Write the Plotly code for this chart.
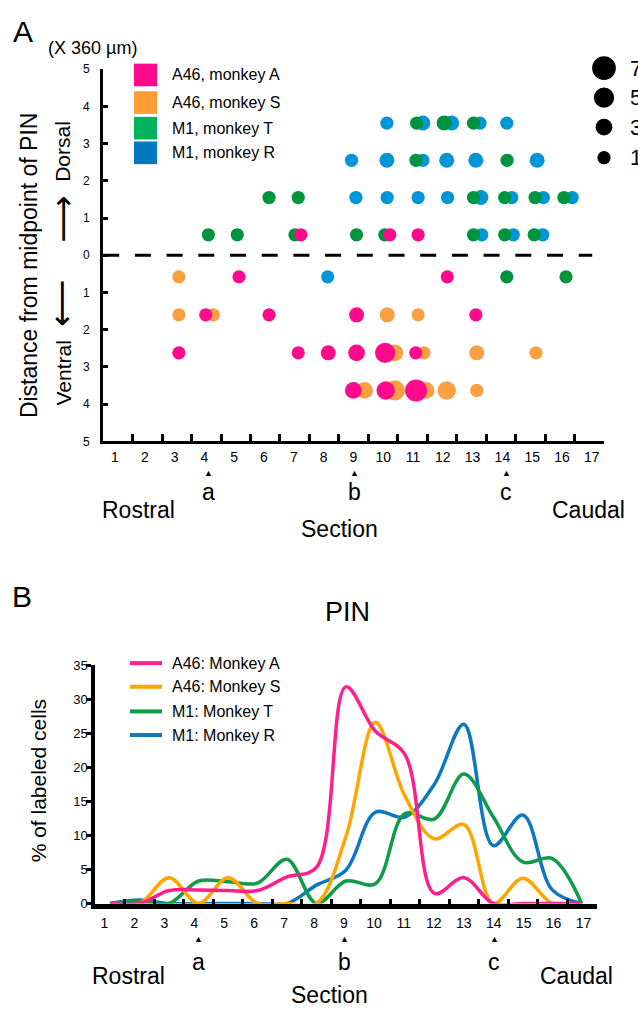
import plotly.graph_objects as go

W, H = 638, 1012
FONT = "Liberation Sans, Arial, Helvetica, sans-serif"


def px(x):
    return x / W


def py(y):
    return 1 - y / H


# ---------------- DATA ----------------
sections = list(range(1, 18))
section_labels = [str(s) for s in sections]
depth_ticks = [-5, -4, -3, -2, -1, 0, 1, 2, 3, 4, 5]
depth_labels = ["5", "4", "3", "2", "1", "0", "1", "2", "3", "4", "5"]

# Panel A: labelled-cell clusters (section position, depth x360 um, cell count)
a46_A_x = [7.21, 10.23, 11.19, 5.11, 12.18, 3.98, 6.13, 9.10, 13.15,
           3.07, 7.12, 8.14, 9.10, 10.07, 11.11, 8.99, 10.09, 11.12]
a46_A_y = [0.55, 0.55, 0.55, -0.58, -0.58, -1.6, -1.6, -1.6, -1.6,
           -2.62, -2.62, -2.62, -2.62, -2.62, -2.62, -3.63, -3.63, -3.63]
a46_A_n = [1, 1, 1, 1, 1, 1, 1, 2, 1,
           1, 1, 2, 3, 5, 1, 3, 4, 6]

a46_S_x = [3.07, 3.07, 4.24, 10.14, 11.19, 10.40, 11.39, 13.18, 15.19,
           9.37, 10.40, 11.46, 12.16, 13.18]
a46_S_y = [-0.58, -1.6, -1.6, -1.6, -1.6, -2.62, -2.62, -2.62, -2.62,
           -3.63, -3.63, -3.63, -3.63, -3.63]
a46_S_n = [1, 1, 1, 2, 1, 3, 1, 2, 1,
           3, 5, 3, 4, 1]

m1_T_x = [11.14, 12.07, 13.07, 11.12, 14.21,
          6.13, 7.12, 13.07, 14.13, 15.16, 16.14,
          4.07, 5.05, 7.01, 9.10, 10.06, 13.07, 14.13, 15.13,
          14.20, 16.21]
m1_T_y = [3.55, 3.55, 3.55, 2.55, 2.55,
          1.55, 1.55, 1.55, 1.55, 1.55, 1.55,
          0.55, 0.55, 0.55, 0.55, 0.55, 0.55, 0.55, 0.55,
          -0.58, -0.58]
m1_T_n = [1, 2, 1, 1, 1,
          1, 1, 1, 1, 1, 1,
          1, 1, 1, 1, 1, 1, 1, 1,
          1, 1]

m1_R_x = [10.13, 11.35, 12.33, 13.29, 14.20,
          8.93, 10.13, 11.35, 12.16, 13.15, 15.23,
          9.08, 10.14, 11.19, 12.19, 13.32, 14.37, 15.44, 16.42,
          13.35, 14.42, 15.42,
          8.12]
m1_R_y = [3.55, 3.55, 3.55, 3.55, 3.55,
          2.55, 2.55, 2.55, 2.55, 2.55, 2.55,
          1.55, 1.55, 1.55, 1.55, 1.55, 1.55, 1.55, 1.55,
          0.55, 0.55, 0.55,
          -0.58]
m1_R_n = [1, 2, 2, 1, 1,
          1, 2, 1, 2, 2, 2,
          1, 1, 1, 1, 2, 1, 1, 1,
          1, 1, 1,
          1]

size_legend_counts = [7, 5, 3, 1]

# Panel B: % of labelled cells per section
pct_A46_A = [0, 0, 1.9, 2.0, 1.9, 1.9, 3.9, 5.3, 31.8, 25.3, 21.9, 1.5, 3.8, 0, 0, 0, 0]
pct_A46_S = [0, 0, 3.8, 0, 3.8, 0, 0, 0, 9.8, 26.6, 15.8, 9.5, 11.6, 0, 3.7, 0, 0]
pct_M1_T = [0, 0.3, 0, 3.3, 3.2, 3.0, 6.5, 0, 3.3, 2.9, 13.2, 12.4, 19.0, 12.7, 6.1, 6.6, 0]
pct_M1_R = [0, 0.5, 0, 0, 0, 0, 0, 2.7, 4.9, 13.4, 12.7, 17.5, 26.3, 8.5, 13.0, 2.0, 0]

pct_ticks = [0, 5, 10, 15, 20, 25, 30, 35]

# ---------------- STYLE ----------------
DOT = {"A": "#FF0A8C", "S": "#F9A040", "T": "#00943E", "R": "#0095D6"}
SWATCH = {"A": "#FF0A8C", "S": "#FF9E35", "T": "#00B35E", "R": "#0077C2"}
LINE = {"A": "#FF1E8E", "S": "#FFA500", "T": "#0F9B48", "R": "#0B78C0"}


def dot_size(n):
    return [11.5 + 1.75 * v for v in n]


fig = go.Figure()

# Panel A dots (drawing order: orange, blue, green, magenta on top)
for xs, ys, ns, key in [(a46_S_x, a46_S_y, a46_S_n, "S"),
                        (m1_R_x, m1_R_y, m1_R_n, "R"),
                        (m1_T_x, m1_T_y, m1_T_n, "T"),
                        (a46_A_x, a46_A_y, a46_A_n, "A")]:
    fig.add_trace(go.Scatter(x=xs, y=ys, mode="markers", xaxis="x", yaxis="y",
                             marker=dict(size=dot_size(ns), color=DOT[key], line=dict(width=0), opacity=1),
                             showlegend=False, hoverinfo="skip"))

# dummy traces for the tick-label axes
fig.add_trace(go.Scatter(x=[None], y=[None], xaxis="x2", yaxis="y", showlegend=False, hoverinfo="skip"))
fig.add_trace(go.Scatter(x=[None], y=[None], xaxis="x4", yaxis="y2", showlegend=False, hoverinfo="skip"))

# Panel B curves
for vals, key in [(pct_M1_R, "R"), (pct_M1_T, "T"), (pct_A46_S, "S"), (pct_A46_A, "A")]:
    fig.add_trace(go.Scatter(x=sections, y=vals, mode="lines", xaxis="x3", yaxis="y2",
                             line=dict(color=LINE[key], width=3.5, shape="spline", smoothing=1.0),
                             showlegend=False, hoverinfo="skip"))

axis_common = dict(showgrid=False, zeroline=False, color="black", linecolor="black", tickcolor="black",
                   tickfont=dict(family=FONT, size=14, color="black"))
no_font = {k: v for k, v in axis_common.items() if k != "tickfont"}

fig.update_layout(
    width=W, height=H, margin=dict(l=0, r=0, t=0, b=0),
    paper_bgcolor="white", plot_bgcolor="rgba(0,0,0,0)", showlegend=False,
    font=dict(family=FONT, color="black"),
    xaxis=dict(domain=[px(103.2), px(604)], range=[0.5, 17.5], anchor="y",
               showline=True, linewidth=3, ticks="inside", ticklen=7, tickwidth=2.5,
               tickvals=[s + 0.5 for s in sections], showticklabels=False, **no_font),
    xaxis2=dict(domain=[px(100.1), px(606.7)], range=[0.5, 17.5], anchor="y",
                showline=False, ticks="", tickvals=sections, ticktext=section_labels,
                ticklabelstandoff=6, **axis_common),
    yaxis=dict(domain=[py(441), py(63)], range=[-5, 5], anchor="x",
               showline=True, linewidth=3, ticks="inside", ticklen=5, tickwidth=2.5,
               tickvals=depth_ticks, ticktext=depth_labels, ticklabelstandoff=8,
               **{**axis_common, "tickfont": dict(family=FONT, size=12, color="black")}),
    xaxis3=dict(domain=[px(95.3), px(596.5)], range=[0.5, 17.5], anchor="y2",
                showline=True, linewidth=4.5, ticks="inside", ticklen=5, tickwidth=3,
                tickvals=[s + 0.5 for s in sections], showticklabels=False, **no_font),
    xaxis4=dict(domain=[px(89.5), px(598.5)], range=[0.5, 17.5], anchor="y2",
                showline=False, ticks="", tickvals=sections, ticktext=section_labels,
                ticklabelstandoff=9, **axis_common),
    yaxis2=dict(domain=[py(910), py(668)], range=[0, 35], anchor="x3",
                showline=True, linewidth=4, ticks="outside", ticklen=5, tickwidth=3,
                tickvals=pct_ticks, ticklabelstandoff=-4,
                **{**axis_common, "tickfont": dict(family=FONT, size=13, color="black")}),
)

shapes = []
# dashed midline of PIN
shapes.append(dict(type="line", xref="x", yref="y", x0=0.5, x1=17.1, y0=0, y1=0,
                   line=dict(color="black", width=3, dash="16px,15.7px"), layer="below"))
# Panel A legend squares
for yy, key in zip([69, 97, 123, 148], ["A", "S", "T", "R"]):
    shapes.append(dict(type="rect", xref="paper", yref="paper", x0=px(134), x1=px(157),
                       y0=py(yy + 11.5), y1=py(yy - 11.5), fillcolor=SWATCH[key], line=dict(width=0)))
# size legend circles
for yy, d in zip([62, 92, 122, 153], dot_size(size_legend_counts)):
    shapes.append(dict(type="circle", xref="paper", yref="paper", xsizemode="pixel", ysizemode="pixel",
                       xanchor=px(604), yanchor=py(yy), x0=-d / 2, x1=d / 2, y0=-d / 2, y1=d / 2,
                       fillcolor="black", line=dict(width=0)))
# Panel B legend lines
for yy, key in zip([666, 690, 715, 739], ["A", "S", "T", "R"]):
    shapes.append(dict(type="line", xref="paper", yref="paper", x0=px(130), x1=px(162),
                       y0=py(yy), y1=py(yy), line=dict(color=LINE[key], width=4)))
fig.update_layout(shapes=shapes)

ann = []


def text(t, x, y, size, angle=0, anchor="center", family=FONT):
    ann.append(dict(text=t, x=px(x), y=py(y), xref="paper", yref="paper", showarrow=False,
                    xanchor=anchor, yanchor="middle", textangle=angle,
                    font=dict(family=family, size=size, color="black")))


# Panel A texts
text("A", 23, 25, 30)
text("(X 360 µm)", 92, 42, 18)
text("Distance from midpoint of PIN", 29, 262, 23, -90)
text("Dorsal", 63, 147, 21, -90)
text("⟶", 63, 216, 33, -90, family="DejaVu Sans")
text("⟶", 63, 300, 33, 90, family="DejaVu Sans")
text("Ventral", 63, 372, 21, -90)
for yy, lab in zip([69, 97, 123, 148], ["A46, monkey A", "A46, monkey S", "M1, monkey T", "M1, monkey R"]):
    text(lab, 170, yy, 16, anchor="left")
for yy, n in zip([62, 92, 122, 153], size_legend_counts):
    text(str(n), 628, yy, 22, anchor="left")
for xx, lab in zip([208, 354, 506], ["a", "b", "c"]):
    text("▲", xx, 473, 9)
    text(lab, xx, 492, 23)
text("Rostral", 138, 511, 23)
text("Caudal", 588, 511, 23)
text("Section", 339, 530, 23)

# Panel B texts
text("B", 22, 598, 30)
text("PIN", 347, 614, 27)
text("% of labeled cells", 38, 786, 21, -90)
for yy, lab in zip([666, 690, 715, 739], ["A46: Monkey A", "A46: Monkey S", "M1: Monkey T", "M1: Monkey R"]):
    text(lab, 170, yy, 16, anchor="left")
for xx, lab in zip([198, 344, 494], ["a", "b", "c"]):
    text("▲", xx, 946, 9)
    text(lab, xx, 969, 23)
text("Rostral", 128, 984, 23)
text("Caudal", 576, 984, 23)
text("Section", 329, 1003, 23)

fig.update_layout(annotations=ann)

page_fix = (
    "document.documentElement.style.margin='0';"
    "document.documentElement.style.overflow='hidden';"
    "document.body.style.margin='0';document.body.style.padding='0';"
    "document.body.style.overflow='hidden';"
    "var d=document.getElementById('{plot_id}');"
    "d.style.position='fixed';d.style.left='0px';d.style.top='0px';"
)

fig.write_html("out.html", config={"displayModeBar": False}, post_script=page_fix)
